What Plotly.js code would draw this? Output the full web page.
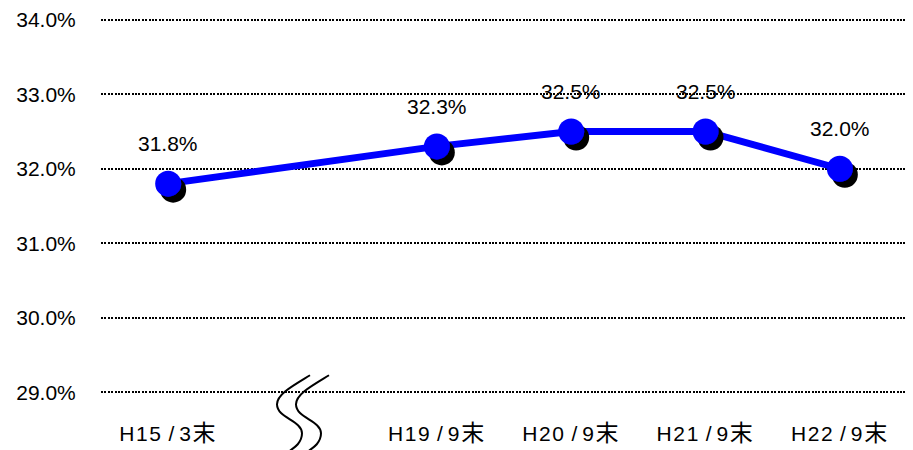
<!DOCTYPE html>
<html>
<head>
<meta charset="utf-8">
<script src="https://cdn.plot.ly/plotly-3.0.1.min.js"></script>
<style>
  html, body { margin: 0; padding: 0; background: #fff; }
  #chart { width: 913px; height: 450px; }
  /* period labels are set a little looser */
  #chart .xtick text { letter-spacing: 1.6px; }
</style>
</head>
<body>
<div id="chart"></div>
<script>
// Axis slots: the second slot is left empty for the break mark
var axisSlots = ["H15/3末", "break", "H19/9末", "H20/9末", "H21/9末", "H22/9末"];
var slotLabels = ["H15/3末", "", "H19/9末", "H20/9末", "H21/9末", "H22/9末"];

// Measured points
var periods = ["H15/3末", "H19/9末", "H20/9末", "H21/9末", "H22/9末"];
var ratios = [31.8, 32.3, 32.5, 32.5, 32.0];

var yTicks = [29, 30, 31, 32, 33, 34];
var yTickText = ["29.0%", "30.0%", "31.0%", "32.0%", "33.0%", "34.0%"];

var FONT = "Arial, Liberation Sans, Noto Sans CJK JP, sans-serif";
var W = 913, H = 450;
var M = { l: 101, r: 6, t: 16.3, b: 54.3 };
var plotW = W - M.l - M.r, plotH = H - M.t - M.b;

// narrow spaces around the slash, slightly larger kanji
function periodLabel(s) {
  if (!s) return s;
  return s.replace("/", "\u2009/\u200A")
          .replace("末", '<span style="font-size:23px">末</span>');
}

// pixel -> paper helpers for the axis-break decoration
function px(x) { return (x - M.l) / plotW; }
function py(y) { return 1 - (y - M.t) / plotH; }
function breakPath(pts) {
  var s = "M " + px(pts[0][0]) + "," + py(pts[0][1]);
  for (var i = 1; i < pts.length; i += 3) {
    s += " C " + [pts[i], pts[i + 1], pts[i + 2]].map(function (p) {
      return px(p[0]) + "," + py(p[1]);
    }).join(" ");
  }
  return s;
}
function sCurve(dx) {
  var c = [[310, 375], [292, 386], [277, 394], [277, 404],
           [277, 418], [302, 420], [302, 433],
           [302, 442], [295, 447], [289, 451]];
  return c.map(function (p) { return [p[0] + dx, p[1]]; });
}

var trace = {
  x: periods,
  y: ratios,
  type: "scatter",
  mode: "lines+markers",
  line: { color: "#0000FF", width: 7 },
  marker: { color: "#0000FF", size: 26, line: { width: 0 } },
  hoverinfo: "skip",
  cliponaxis: false
};

var labels = periods.map(function (p, i) {
  return {
    x: p, y: ratios[i], xref: "x", yref: "y",
    text: ratios[i].toFixed(1) + "%",
    showarrow: false, yshift: 40,
    font: { family: FONT, size: 21, color: "#000" }
  };
});

var layout = {
  width: W, height: H,
  margin: M,
  paper_bgcolor: "#fff", plot_bgcolor: "#fff",
  showlegend: false,
  font: { family: FONT, size: 20, color: "#000" },
  xaxis: {
    type: "category",
    categoryorder: "array", categoryarray: axisSlots,
    range: [-0.5, axisSlots.length - 0.5],
    tickmode: "array", tickvals: axisSlots, ticktext: slotLabels.map(periodLabel),
    showgrid: false, zeroline: false, showline: false,
    ticks: "outside", ticklen: 19, tickcolor: "rgba(0,0,0,0)",
    tickfont: { family: FONT, size: 21, color: "#000" },
    automargin: false,
    fixedrange: true
  },
  yaxis: {
    range: [28.95, 34.05],
    tickmode: "array", tickvals: yTicks, ticktext: yTickText,
    showgrid: true, gridcolor: "#000", gridwidth: 2, griddash: "2px,1.4px",
    zeroline: false, showline: false,
    ticks: "outside", ticklen: 20, tickcolor: "rgba(0,0,0,0)",
    tickfont: { family: FONT, size: 21, color: "#000" },
    automargin: false,
    fixedrange: true
  },
  annotations: labels,
  shapes: [0, 19].map(function (dx) {
    return {
      type: "path", xref: "paper", yref: "paper", layer: "above",
      path: breakPath(sCurve(dx)),
      line: { color: "#000", width: 2 }
    };
  })
};

Plotly.newPlot("chart", [trace], layout, { staticPlot: true }).then(function (gd) {
  // solid black drop shadow under each marker
  var ns = "http://www.w3.org/2000/svg";
  var svg = gd.querySelector("svg.main-svg");
  var defs = svg.querySelector("defs") || svg.insertBefore(document.createElementNS(ns, "defs"), svg.firstChild);
  var f = document.createElementNS(ns, "filter");
  f.setAttribute("id", "markerShadow");
  f.setAttribute("x", "-50%"); f.setAttribute("y", "-50%");
  f.setAttribute("width", "200%"); f.setAttribute("height", "200%");
  var d = document.createElementNS(ns, "feDropShadow");
  d.setAttribute("dx", "5"); d.setAttribute("dy", "6");
  d.setAttribute("stdDeviation", "0");
  d.setAttribute("flood-color", "#000"); d.setAttribute("flood-opacity", "1");
  f.appendChild(d);
  defs.appendChild(f);
  gd.querySelectorAll(".scatterlayer .points path").forEach(function (p) {
    p.setAttribute("filter", "url(#markerShadow)");
  });
});
</script>
</body>
</html>
